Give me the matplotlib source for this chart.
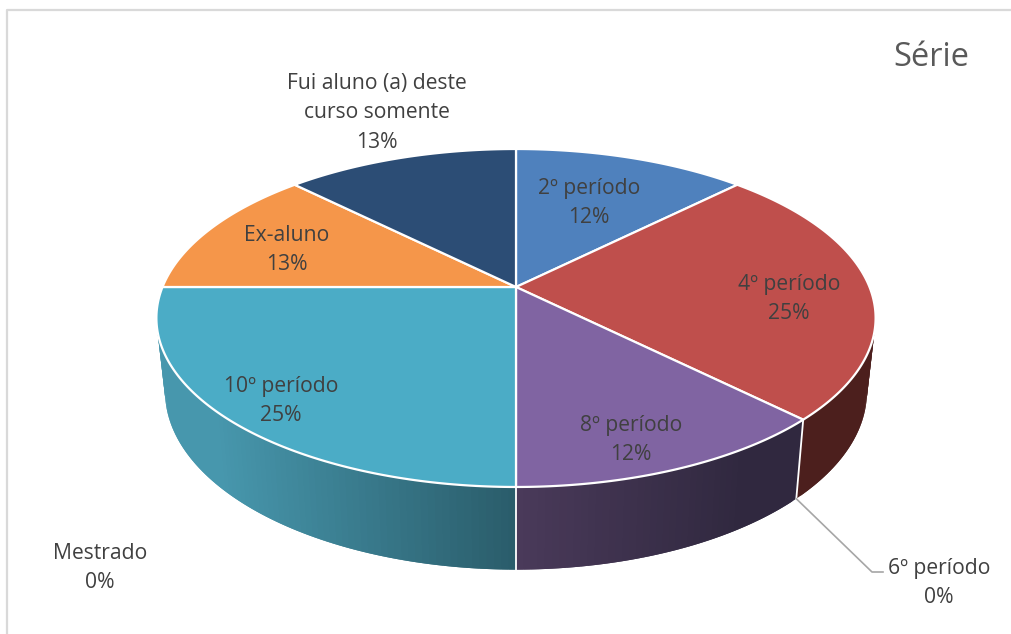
import numpy as np
import matplotlib
matplotlib.use("Agg")
import matplotlib.pyplot as plt
from matplotlib.patches import Polygon
from matplotlib.lines import Line2D

plt.rcParams['font.family'] = ['Open Sans', 'DejaVu Sans']

# -----------------------------------------
# Data
# -----------------------------------------
categories = ["2º período", "4º período", "6º período", "8º período",
              "10º período", "Mestrado", "Ex-aluno", "Fui aluno (a) deste\ncurso somente"]
shares = [12.5, 25, 0, 12.5, 25, 0, 12.5, 12.5]
pct_labels = ["12%", "25%", "0%", "12%", "25%", "0%", "13%", "13%"]
top_colors = ["#4f81bd", "#bf4f4c", "#9bbb59", "#8064a2", "#4bacc6", "#f79646", "#f5964a", "#2c4d75"]
title = "Série"

# label centres in pixels, same order as categories
label_xy = [(589, 203), (789, 299), (939, 583), (631, 440),
            (281, 401), (100, 568), (287, 250), (377, 113)]

W, H = 1011, 634
TEXT = "#404040"

# -----------------------------------------
# Perspective of the disc (pixels)
# -----------------------------------------
CX = 516
K = 0.1834

def top_rim(theta):
    u, v = np.sin(theta), np.cos(theta)
    d = 1 + K * v
    return np.column_stack((CX + 353.5 * u / d, 287 - 163.3 * v / d))

def bottom_rim(theta):
    u, v = np.sin(theta), np.cos(theta)
    d = 1 + K * v
    return np.column_stack((CX + 345 * u / d, 359 - 172 * v / d))

def mix(c1, c2, t):
    a = np.array(matplotlib.colors.to_rgb(c1))
    b = np.array(matplotlib.colors.to_rgb(c2))
    return tuple(a + (b - a) * t)

def side_color(name, x):
    # side walls get darker towards the middle, like the Excel bevel
    if name == "4º período":
        return "#4c1f1d"
    if name == "8º período":
        return mix("#4a3a5a", "#30283f", min((x - CX) / 230.0, 1))
    return mix("#2a5c6a", "#4797ad", min((CX - x) / 300.0, 1))

fig = plt.figure(figsize=(W / 100, H / 100), dpi=100, facecolor="white")
ax = fig.add_axes([0, 0, 1, 1])
ax.set_xlim(0, W)
ax.set_ylim(H, 0)
ax.axis("off")

# chart frame
ax.add_line(Line2D([6.5, 6.5, W], [H, 10, 10], color="#d9d9d9", lw=1.6))

# -----------------------------------------
# Slice angles, clockwise from the top
# -----------------------------------------
edges = np.radians(np.cumsum([0] + shares) / sum(shares) * 360)

# side walls first, each strip overlaps the next one so no seams show
for i, name in enumerate(categories):
    start, end = edges[i], edges[i + 1]
    if shares[i] == 0:
        continue
    lo, hi = max(start, np.pi / 2), min(end, 3 * np.pi / 2)
    if hi <= lo:
        continue
    steps = np.linspace(lo, hi, int(np.degrees(hi - lo)) + 2)
    tops, bots = top_rim(steps), bottom_rim(steps)
    n = len(steps) - 1
    order = range(n) if name == "8º período" else range(n - 1, -1, -1)
    for j in order:
        k = min(j + 2, n) if name == "8º período" else j + 1
        m = j if name == "8º período" else max(j - 1, 0)
        quad = [tops[m], tops[k], bots[k], bots[m]]
        col = side_color(name, (tops[j][0] + tops[j + 1][0]) / 2)
        ax.add_patch(Polygon(quad, closed=True, fc=col, ec="none", zorder=2))

# white seams on the wall
for a in [edges[2], edges[4]]:
    t = top_rim(np.array([a]))[0]
    b = bottom_rim(np.array([a]))[0]
    ax.add_line(Line2D([t[0], b[0]], [t[1], b[1]], color="white", lw=1.3, zorder=3))

# top faces
for i, name in enumerate(categories):
    if shares[i] == 0:
        continue
    steps = np.linspace(edges[i], edges[i + 1], 120)
    pts = np.vstack(([CX, 287], top_rim(steps)))
    ax.add_patch(Polygon(pts, closed=True, fc=top_colors[i], ec="white", lw=1.6,
                         joinstyle="round", zorder=4))

# leader line for 6º período
corner = bottom_rim(np.array([edges[2]]))[0]
ax.add_line(Line2D([corner[0], 872, 883], [corner[1], 572, 572], color="#a6a6a6", lw=1.2, zorder=3))

# -----------------------------------------
# Labels
# -----------------------------------------
for name, pct, (x, y) in zip(categories, pct_labels, label_xy):
    ax.text(x, y, name + "\n" + pct, ha="center", va="center", fontsize=15.2,
            color=TEXT, linespacing=1.5, zorder=6)

ax.text(931, 58, title, ha="center", va="center", fontsize=23.5, color="#595959", zorder=6)

fig.savefig("out.png", dpi=100)
